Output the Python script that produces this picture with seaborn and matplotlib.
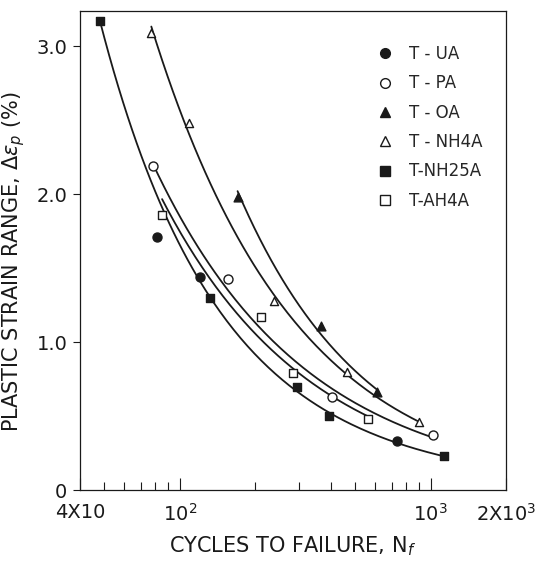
import numpy as np
import pandas as pd
import matplotlib
matplotlib.use("Agg")
import matplotlib.pyplot as plt
import seaborn as sns
from matplotlib.lines import Line2D

# cycles to failure (Nf) and plastic strain range (%)
ua_n = [81, 120, 733]
ua_e = [1.71, 1.44, 0.33]
pa_n = [78, 155, 404, 1019]
pa_e = [2.19, 1.43, 0.63, 0.37]
oa_n = [170, 365, 610]
oa_e = [1.98, 1.11, 0.66]
nh4a_n = [77, 109, 237, 463, 897]
nh4a_e = [3.09, 2.48, 1.28, 0.80, 0.46]
nh25a_n = [48, 132, 293, 393, 1128]
nh25a_e = [3.17, 1.30, 0.70, 0.50, 0.23]
ah4a_n = [85, 210, 282, 562]
ah4a_e = [1.86, 1.17, 0.79, 0.48]

labels = ["T - UA", "T - PA", "T - OA", "T - NH4A", "T-NH25A", "T-AH4A"]
series_n = [ua_n, pa_n, oa_n, nh4a_n, nh25a_n, ah4a_n]
series_e = [ua_e, pa_e, oa_e, nh4a_e, nh25a_e, ah4a_e]

# fitted curves (T-UA points sit on the T-NH25A curve, no own curve)
curve_groups = [[4], [1], [5], [3], [2]]

x_ticks = [40, 100, 1000, 2000]
x_ticklabels = ["4X10", "$10^2$", "$10^3$", "2X$10^3$"]
y_ticks = [0, 1, 2, 3]
y_ticklabels = ["0", "1.0", "2.0", "3.0"]

markers = ["o", "o", "^", "^", "s", "s"]
filled = [True, False, True, False, True, False]
sizes = [42, 42, 40, 34, 34, 40]

rows = []
for lab, n, e in zip(labels, series_n, series_e):
    for a, b in zip(n, e):
        rows.append({"series": lab, "Nf": a, "strain": b})
df = pd.DataFrame(rows)

sns.set_style("ticks")
plt.rcParams["font.family"] = ["DejaVu Sans"]
plt.rcParams["mathtext.fontset"] = "dejavusans"

fig = plt.figure(figsize=(5.53, 5.66), dpi=100)
ax = fig.add_axes([80 / 553, 1 - 490 / 566, 426 / 553, 479 / 566])

ink = "#1a1a1a"

# smooth fit lines in log-log space (quadratic when there are enough points)
for grp in curve_groups:
    n = np.concatenate([series_n[i] for i in grp]).astype(float)
    e = np.concatenate([series_e[i] for i in grp])
    deg = 2 if len(n) >= 5 else 1
    coef = np.polyfit(np.log10(n), np.log10(e), deg)
    xs = np.logspace(np.log10(n.min()), np.log10(n.max()), 150)
    sns.lineplot(x=xs, y=10 ** np.polyval(coef, np.log10(xs)), ax=ax,
                 color=ink, lw=1.3, estimator=None, sort=False)

for i, lab in enumerate(labels):
    sub = df[df["series"] == lab]
    sns.scatterplot(data=sub, x="Nf", y="strain", ax=ax, marker=markers[i],
                    s=sizes[i], facecolor=ink if filled[i] else "white",
                    edgecolor=ink, linewidth=1.0, zorder=3)

ax.set_xscale("log")
ax.set_xlim(40, 2000)
ax.set_ylim(0, 3.24)

ax.set_xticks(x_ticks)
ax.set_xticklabels(x_ticklabels, fontsize=14)
ax.set_xticks([50, 60, 70, 80, 90, 200, 300, 400, 500, 600, 700, 800, 900], minor=True)
ax.set_xticklabels([], minor=True)
ax.set_yticks(y_ticks)
ax.set_yticklabels(y_ticklabels, fontsize=14)
ax.yaxis.set_minor_locator(matplotlib.ticker.NullLocator())

ax.tick_params(axis="x", which="major", direction="in", length=9, width=0.8, pad=9, colors=ink)
ax.tick_params(axis="x", which="minor", direction="in", length=6, width=0.8, colors=ink)
ax.tick_params(axis="y", which="major", direction="out", length=5, width=0.8, pad=4, colors=ink)

for sp in ax.spines.values():
    sp.set_visible(True)
    sp.set_linewidth(0.9)
    sp.set_color(ink)

ax.set_xlabel("CYCLES TO FAILURE, N$_f$", fontsize=15, color=ink, labelpad=7)
ax.set_ylabel(r"PLASTIC STRAIN RANGE, $\Delta\epsilon_p$ (%)", fontsize=15, color=ink)
ax.yaxis.set_label_coords(-(80 - 27) / 426, 0.476)

handles = [Line2D([], [], linestyle="none", marker=markers[i], markersize=7,
                  markerfacecolor=ink if filled[i] else "white",
                  markeredgecolor=ink, markeredgewidth=1.0)
           for i in range(len(labels))]
ax.legend(handles, labels, loc="upper left", bbox_to_anchor=(0.697, 0.929),
          frameon=False, fontsize=12, handlelength=1.0, handletextpad=0.9,
          labelspacing=0.68, borderpad=0, borderaxespad=0)

fig.savefig("out.png", dpi=100, facecolor="white")
